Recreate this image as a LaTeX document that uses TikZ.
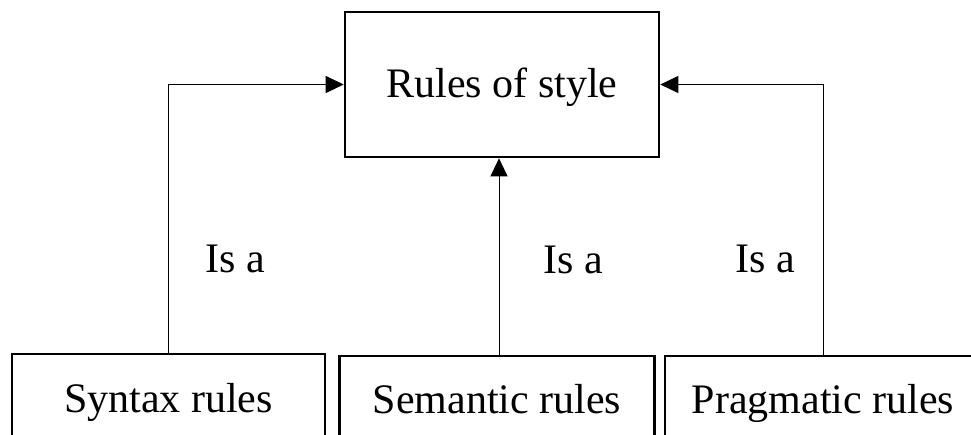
\documentclass[tikz,border=0pt]{standalone}
\usepackage{fontspec}
\setmainfont{Liberation Serif}
\usetikzlibrary{arrows.meta}
\begin{document}
\begin{tikzpicture}[x=1pt,y=-1pt,
  box/.style={draw=black,line width=2.6pt,rectangle,inner sep=0pt,
    text height=28pt,text depth=2pt,
    font=\fontsize{42}{48}\selectfont},
  label/.style={inner sep=0pt,text height=28pt,text depth=0pt,
    font=\fontsize{42}{48}\selectfont},
  link/.style={draw=black,line width=1pt,
    -{Triangle[length=18pt,width=17pt]}}]
  \useasboundingbox (0,0) rectangle (971,434);
  \clip (0,0) rectangle (971,434);

  % the general rule at the top
  \node[box,minimum width=314pt,minimum height=145pt] (top) at (502,84.5)
    {Rules of style};

  % the three kinds of rule along the bottom (cut by the page edge)
  \node[box,minimum width=313pt,minimum height=90pt] (syn) at (168.5,399)
    {Syntax rules};
  \node[box,minimum width=315pt,minimum height=88pt] (sem) at (497,400)
    {Semantic rules};
  \node[box,minimum width=316pt,minimum height=88pt] (prag) at (823,400)
    {Pragmatic rules};

  % "is a" links
  \draw[link] (syn.north) |- (top.west);
  \draw[link] (prag.north) |- (top.east);
  \draw[link] ([xshift=2pt]sem.north) -- ([xshift=2pt]sem.north |- top.south);

  \node[label] (l1) at (235,258) {Is a};
  \node[label] (l2) at (573,259) {Is a};
  \node[label] (l3) at (765,258) {Is a};
\end{tikzpicture}
\end{document}
